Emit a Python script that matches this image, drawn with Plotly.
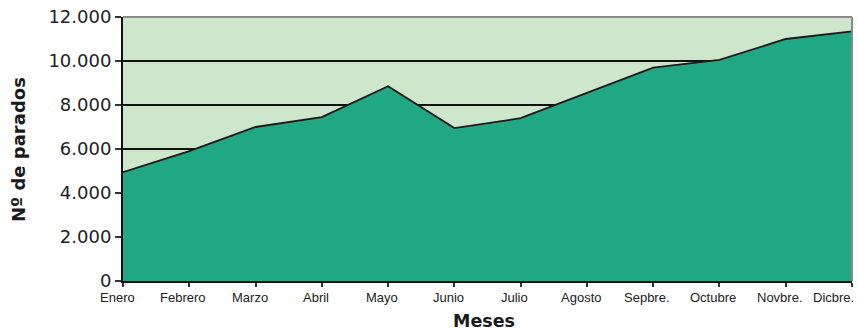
import plotly.graph_objects as go

months = ["Enero", "Febrero", "Marzo", "Abril", "Mayo", "Junio", "Julio",
          "Agosto", "Sepbre.", "Octubre", "Novbre.", "Dicbre."]
parados = [4950, 5900, 7000, 7450, 8850, 6950, 7400, 8550, 9700, 10050, 11000, 11350]
y_ticks = [0, 2000, 4000, 6000, 8000, 10000, 12000]
y_tick_labels = ["0", "2.000", "4.000", "6.000", "8.000", "10.000", "12.000"]

x_pos = list(range(len(months)))

fig = go.Figure()
fig.add_trace(go.Scatter(
    x=x_pos, y=parados, mode="lines", fill="tozeroy",
    fillcolor="#20a884", line=dict(color="#1a1a1a", width=1.8),
    hoverinfo="skip", showlegend=False,
))

wide = "DejaVu Sans, Verdana, sans-serif"
narrow = "Liberation Sans, Arial, sans-serif"

annotations = []
last = len(months) - 1
for i, m in enumerate(months):
    if i == last:
        annotations.append(dict(x=i, y=-0.063, xref="x", yref="paper", text=m,
                                showarrow=False, xanchor="right", yanchor="middle",
                                xshift=4, font=dict(family=narrow, size=13, color="#222222")))
    else:
        annotations.append(dict(x=i, y=-0.063, xref="x", yref="paper", text=m,
                                showarrow=False, xanchor="center", yanchor="middle",
                                xshift=-6, font=dict(family=narrow, size=13, color="#222222")))

annotations.append(dict(x=0.495, y=-0.153, xref="paper", yref="paper", text="<b>Meses</b>",
                        showarrow=False, xanchor="center", yanchor="middle",
                        font=dict(family=wide, size=17.5, color="#1a1a1a")))
annotations.append(dict(x=(18 - 123) / 729, y=0.5, xref="paper", yref="paper",
                        text="<b>Nº de parados</b>", textangle=-90,
                        showarrow=False, xanchor="center", yanchor="middle",
                        font=dict(family=wide, size=18, color="#1a1a1a")))

fig.update_layout(
    width=858, height=330,
    margin=dict(l=123, r=6, t=15, b=49),
    paper_bgcolor="white",
    plot_bgcolor="#cee6cc",
    font=dict(family=narrow, color="#222222"),
    xaxis=dict(
        range=[0, last],
        tickmode="array", tickvals=x_pos,
        showticklabels=False,
        showgrid=False, zeroline=False,
        showline=True, linecolor="#111111", linewidth=2,
        ticks="outside", ticklen=4, tickwidth=1.5, tickcolor="#333333",
    ),
    yaxis=dict(
        range=[0, 12000],
        tickmode="array", tickvals=y_ticks, ticktext=y_tick_labels,
        tickfont=dict(family=wide, size=18, color="#222222"),
        showgrid=True, gridcolor="#111111", gridwidth=2,
        zeroline=False,
        showline=True, linecolor="#111111", linewidth=2,
        ticks="outside", ticklen=6, tickwidth=1.5, tickcolor="#333333",
    ),
    annotations=annotations,
    shapes=[
        dict(type="line", xref="paper", yref="paper", x0=0, x1=1, y0=1, y1=1,
             line=dict(color="#8a8a8a", width=2), layer="above"),
        dict(type="line", xref="paper", yref="paper", x0=1, x1=1, y0=0, y1=1,
             line=dict(color="#8a8a8a", width=2), layer="above"),
    ],
)

fig.write_html("out.html")
